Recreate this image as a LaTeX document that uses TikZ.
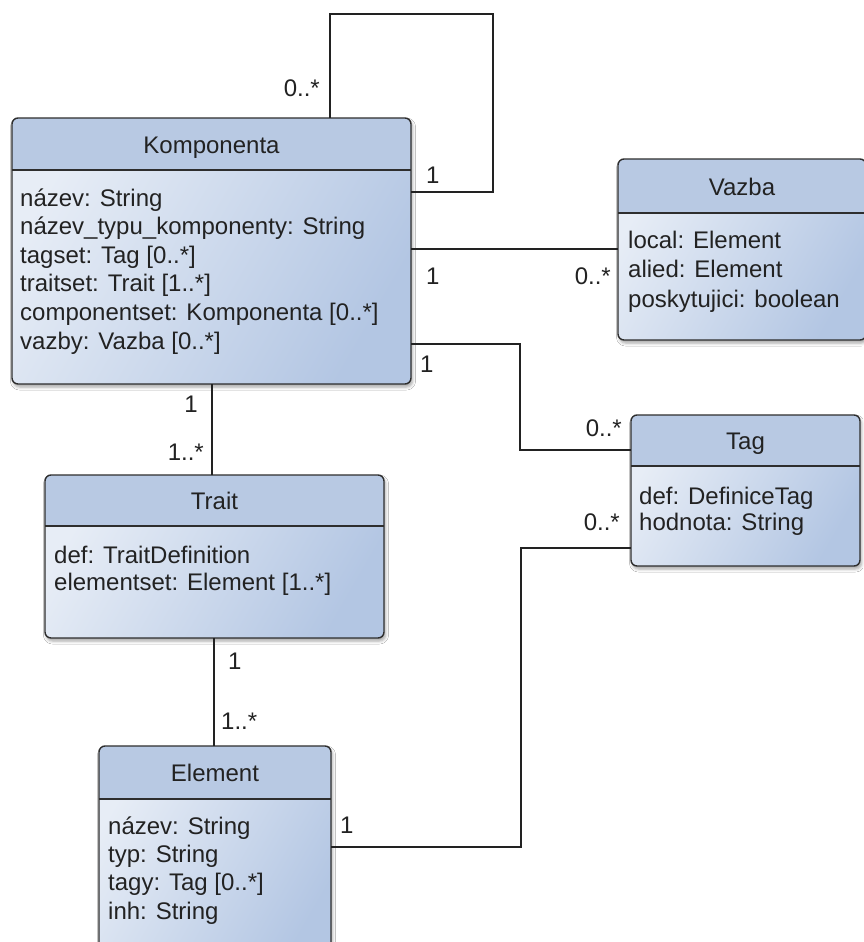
\documentclass[tikz,border=0pt]{standalone}
\usepackage{fontspec}
\setmainfont{Liberation Sans}
\usetikzlibrary{shadows.blur}

\definecolor{headfill}{HTML}{B8C9E3}
\definecolor{bodylight}{HTML}{E7EDF6}
\definecolor{bodydark}{HTML}{B3C6E3}
\definecolor{frame}{HTML}{2E2E2E}
\definecolor{ink}{HTML}{222222}

\tikzset{
  classbody/.style={rectangle, inner sep=0pt, outer sep=0pt, rounded corners=6pt,
    left color=bodylight, right color=bodydark, shading angle=60,
    blur shadow={shadow xshift=1.5pt, shadow yshift=-3pt, shadow blur radius=3pt, shadow opacity=35}},
  classframe/.style={draw=frame, line width=1.4pt, rounded corners=6pt},
  headsep/.style={draw=frame, line width=1.3pt},
  titletext/.style={inner sep=0pt, text=ink, font=\fontsize{24}{28}\selectfont},
  attrtext/.style={inner sep=0pt, text=ink, font=\fontsize{24}{28}\selectfont},
  mult/.style={inner sep=0pt, text=ink, font=\fontsize{24}{28}\selectfont},
  assoc/.style={draw=ink, line width=1.4pt},
}

% \umlclass{name}{x0}{y0}{x1}{y1}{header bottom}{title}
\newcommand\umlclass[7]{%
  \node[classbody, minimum width={#4-#2}, minimum height={#5-#3}, anchor=north west] (#1) at (#2,#3) {};
  \coordinate (#1-hl) at (#2,#6);
  \fill[headfill] (#1.west |- #1-hl) [rounded corners=6pt] -- (#1.north west) -- (#1.north east)
    [sharp corners] -- (#1.east |- #1-hl) -- cycle;
  \draw[headsep] (#1.west |- #1-hl) -- (#1.east |- #1-hl);
  \draw[classframe] (#1.north west) rectangle (#1.south east);
  \node[titletext, anchor=base] (#1-title) at ({(#2+#4)/2},{(#3+#6)/2+9}) {#7};
}

% \attrlist{name}{x}{first baseline}{line spacing}{lines}
\newcommand\attrlist[5]{%
  \foreach \t [count=\i] in {#5} {
    \node[attrtext, anchor=base west] (#1-a\i) at (#2,{#3+(\i-1)*#4}) {\t};
  }
}

\begin{document}
\begin{tikzpicture}[x=1pt, y=-1pt]
  \fill[white, use as bounding box] (0,0) rectangle (863,942);

  % classes
  \umlclass{komp}{12}{118}{411}{384}{170}{Komponenta}
  \attrlist{komp}{20}{206}{28.6}{{název: String},{název\_typu\_komponenty: String},{tagset: Tag [0..*]},{traitset: Trait [1..*]},{componentset: Komponenta [0..*]},{vazby: Vazba [0..*]}}

  \umlclass{vazba}{618}{159}{866}{340}{213}{Vazba}
  \attrlist{vazba}{628}{248}{29.5}{{local: Element},{alied: Element},{poskytujici: boolean}}

  \umlclass{tag}{631}{415}{860}{566}{466}{Tag}
  \attrlist{tag}{639}{504}{26.5}{{def: DefiniceTag},{hodnota: String}}

  \umlclass{trait}{45}{475}{384}{638}{526}{Trait}
  \attrlist{trait}{54}{563}{27.5}{{def: TraitDefinition},{elementset: Element [1..*]}}

  \umlclass{elem}{99}{746}{331}{965}{799}{Element}
  \attrlist{elem}{108}{834}{28.4}{{název: String},{typ: String},{tagy: Tag [0..*]},{inh: String}}

  % routing points
  \coordinate (loopA) at (330,14);
  \coordinate (loopB) at (493,192);
  \coordinate (kvY) at (0,249);
  \coordinate (ktA) at (520,344);
  \coordinate (ktB) at (520,450);
  \coordinate (etA) at (521,847);
  \coordinate (etB) at (521,548);
  \coordinate (ktrX) at (212,0);
  \coordinate (teX) at (214,0);

  % associations
  \draw[assoc] (komp.north -| loopA) -- (loopA) -| (loopB) -- (komp.east |- loopB);
  \draw[assoc] (komp.east |- kvY) -- (vazba.west |- kvY);
  \draw[assoc] (komp.east |- ktA) -- (ktA) -- (ktB) -- (tag.west |- ktB);
  \draw[assoc] (elem.east |- etA) -- (etA) -- (etB) -- (tag.west |- etB);
  \draw[assoc] (komp.south -| ktrX) -- (trait.north -| ktrX);
  \draw[assoc] (trait.south -| teX) -- (elem.north -| teX);

  % multiplicities
  \node[mult, anchor=base east] (m-self-many) at (320,96) {0..*};
  \node[mult, anchor=base west] (m-self-one) at (426,183) {1};
  \node[mult, anchor=base west] (m-kv-one) at (426,284) {1};
  \node[mult, anchor=base east] (m-kv-many) at (611,284) {0..*};
  \node[mult, anchor=base west] (m-kt-one) at (420,372) {1};
  \node[mult, anchor=base east] (m-kt-many) at (622,436) {0..*};
  \node[mult, anchor=base east] (m-et-many) at (620,530) {0..*};
  \node[mult, anchor=base west] (m-et-one) at (340,833) {1};
  \node[mult, anchor=base east] (m-ktr-one) at (198,412) {1};
  \node[mult, anchor=base east] (m-ktr-many) at (204,460) {1..*};
  \node[mult, anchor=base west] (m-te-one) at (228,669) {1};
  \node[mult, anchor=base west] (m-te-many) at (221,729) {1..*};
\end{tikzpicture}
\end{document}
